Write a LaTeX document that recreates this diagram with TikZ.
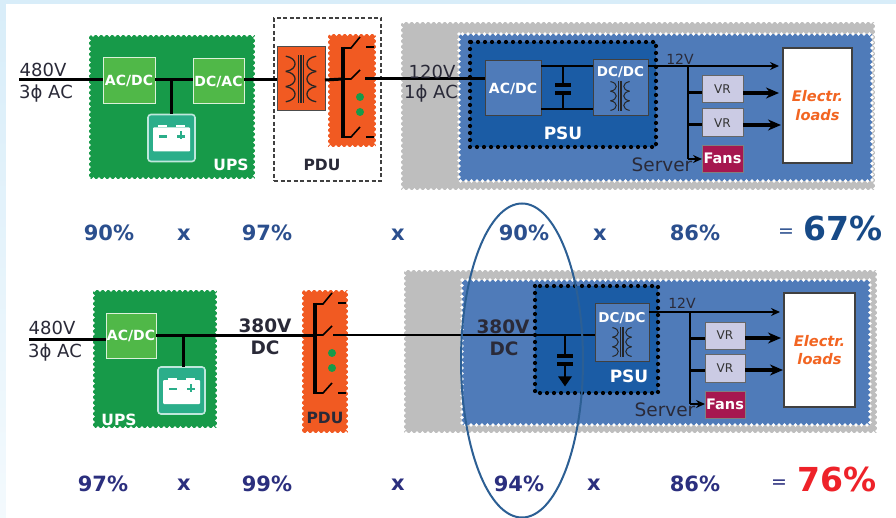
\documentclass[tikz,border=0pt]{standalone}
\usepackage{fontspec}
\setmainfont{DejaVu Sans}
\usetikzlibrary{arrows.meta,shapes.geometric}
\definecolor{bgblue}{HTML}{D8EDF9}
\definecolor{upsgreen}{HTML}{179A49}
\definecolor{ltgreen}{HTML}{50B848}
\definecolor{pduorange}{HTML}{F15A22}
\definecolor{srvblue}{HTML}{4F7BB9}
\definecolor{psublue}{HTML}{1B5CA5}
\definecolor{srvgray}{HTML}{BEBEBE}
\definecolor{vrfill}{HTML}{CBCBE4}
\definecolor{fanred}{HTML}{A6174F}
\definecolor{loadorange}{HTML}{F26522}
\definecolor{pctA}{HTML}{2B4F8E}
\definecolor{pctB}{HTML}{2B2F7E}
\definecolor{bigblue}{HTML}{174A87}
\definecolor{bigred}{HTML}{EE2229}
\definecolor{ellblue}{HTML}{2C5F94}
\definecolor{teal}{HTML}{2BAE8A}
\definecolor{txt}{HTML}{2A2A38}
\newcommand{\fs}[1]{\fontsize{#1}{#1}\selectfont}
% style, name, x1, y1, x2, y2, text
\newcommand{\rbox}[7]{%
  \pgfmathsetmacro\bxw{#5-#3}\pgfmathsetmacro\bxh{#6-#4}%
  \node[#1,minimum width=\bxw pt,minimum height=\bxh pt] (#2) at ({(#3+#5)/2},{(#4+#6)/2}) {#7};}
\newcommand{\xfmr}[5]{% cx cy scale colour linewidth
  \begin{scope}[shift={(#1,#2)},scale=#3,draw=#4,line width=#5]
    \foreach \s in {-1,1}{
      \foreach \k in {-16,0,16}{
        \draw (\s*16,\k-8) .. controls (\s*3,\k-6) and (\s*3,\k+6) .. (\s*16,\k+8);
      }
    }
    \draw (-2.5,-25) -- (-2.5,25) (0,-25) -- (0,25) (2.5,-25) -- (2.5,25);
  \end{scope}}
\newcommand{\battery}[2]{% name, centre
  \node[batt] (#1) at (#2) {};
  \node[battcore] (#1core) at ([yshift=-1.5pt]#1.center) {};
  \fill[white] ([xshift=5pt]#1core.north west) rectangle ++(9,-2);
  \fill[white] ([xshift=-14pt]#1core.north east) rectangle ++(9,-2);
  \fill[teal] ([xshift=-13pt,yshift=4pt]#1core.center) rectangle ++(8,2.2);
  \fill[teal] ([xshift=5pt,yshift=4pt]#1core.center) rectangle ++(8,2.2);
  \fill[teal] ([xshift=8pt,yshift=8pt]#1core.center) rectangle ++(2.2,8);}
\newcommand{\pduswitch}[2]{% dx dy
  \begin{scope}[shift={(#1,#2)}]
    \draw[line width=3.4pt] (343,47) -- (343,138);
    \draw[line width=1.6pt] (343,48) -- (351,48) -- (360,37) (366,47) -- (374,47);
    \draw[line width=1.6pt] (343,79) -- (351,79) -- (360,70);
    \draw[line width=1.6pt] (343,137) -- (351,137) -- (360,127) (366,137) -- (374,137);
    \fill[upsgreen] (360,97) circle[radius=4];
    \fill[upsgreen] (360,112) circle[radius=4];
  \end{scope}}
\tikzset{
  scallop/.style={draw=white,line width=3.6pt,line cap=round,dash pattern=on 0pt off 5.5pt},
  lbl/.style={inner sep=0pt,outer sep=0pt,text=txt,align=center,font=\fs{18}},
  lblb/.style={lbl,font=\fs{18.5}\bfseries},
  white label/.style={inner sep=0pt,text=white,font=\fs{15.5}\bfseries},
  basebox/.style={rectangle,inner sep=0pt,outer sep=0pt},
  upsbox/.style={basebox,fill=upsgreen},
  conv/.style={basebox,fill=ltgreen,draw=white!80!ltgreen,line width=1pt,text=white,font=\fs{14}\bfseries},
  pdubox/.style={basebox,fill=pduorange},
  xfbox/.style={basebox,fill=pduorange,draw=black!70,line width=1pt},
  graybox/.style={basebox,fill=srvgray},
  srvbox/.style={basebox,fill=srvblue},
  psubox/.style={basebox,fill=psublue},
  psudots/.style={draw=black,line width=4.2pt,line cap=round,dash pattern=on 0pt off 7pt},
  inner/.style={basebox,fill=srvblue,draw=black!75,line width=1pt,text=white,font=\fs{14}\bfseries},
  vrbox/.style={basebox,fill=vrfill,draw=black!60,line width=1pt,text=black!80,font=\fs{12}},
  fanbox/.style={basebox,fill=fanred,draw=black!50,line width=.6pt,text=white,font=\fs{14.5}\bfseries},
  loadbox/.style={basebox,fill=white,draw=black!75,line width=1.2pt,align=center,text=loadorange,font=\fs{14.6}\bfseries\itshape},
  batt/.style={draw=white!70!teal,fill=teal,line width=1.6pt,rounded corners=3pt,minimum width=47pt,minimum height=47pt,inner sep=0pt,outer sep=0pt},
  battcore/.style={fill=white,rounded corners=1pt,minimum width=37pt,minimum height=24pt,inner sep=0pt,outer sep=0pt},
  wire/.style={draw=black,line width=3pt},
  thin wire/.style={draw=black,line width=2pt},
  feed/.style={thin wire,-{Stealth[length=9pt,width=8pt]}},
  feedb/.style={draw=black,line width=3.2pt,-{Stealth[length=13pt,width=11pt]}},
  pctA/.style={inner sep=0pt,text=pctA,font=\fs{21}\bfseries},
  pctB/.style={inner sep=0pt,text=pctB,font=\fs{21}\bfseries},
}
\begin{document}
\begin{tikzpicture}[x=1pt,y=-1pt]
\useasboundingbox (0,0) rectangle (896,518);
\fill[bgblue] (0,0) rectangle (896,518);
\shade[top color=bgblue,bottom color=white!70!bgblue] (0,0) rectangle (7,518);
\fill[white] (6,4) rectangle (896,518);

%%%%%% ROW 1
\rbox{upsbox}{upsA}{89}{35}{255}{179}{}
\draw[scallop] (upsA.north west) rectangle (upsA.south east);
\rbox{conv}{acdcA}{103}{58}{155}{104}{AC/DC}
\rbox{conv}{dcacA}{193}{59}{244}{104}{DC/AC}
\battery{batA}{171.5,138}
\node[white label] (upsAl) at (231,165) {UPS};

\rbox{pdubox}{pduA}{328}{34}{376}{147}{}
\draw[scallop] (pduA.north west) rectangle (pduA.south east);
\rbox{xfbox}{xfA}{277}{47}{325}{111}{}
\xfmr{301}{79}{0.95}{black!85}{1.3pt}
\pduswitch{0}{0}
\rbox{basebox,draw=black!75,line width=1.3pt,dash pattern=on 4pt off 2.5pt}{pdudash}{274}{18}{381}{181}{}
\node[lbl,font=\fs{15.5}\bfseries] (pduAl) at (322,165) {PDU};

\rbox{graybox}{grayA}{401}{22}{875}{190}{}
\draw[scallop] (grayA.north west) rectangle (grayA.south east);
\rbox{srvbox}{srvA}{459}{34}{872}{181}{}
\draw[scallop] (srvA.north west) rectangle (srvA.south east);
\rbox{psubox}{psuA}{470}{42}{656}{147}{}
\draw[psudots] (psuA.north west) rectangle (psuA.south east);
\rbox{inner}{acdcB}{485}{61}{541}{116}{AC/DC}
\rbox{inner}{dcdcA}{593}{60}{648}{116}{}
\node[inner sep=0pt,text=white,font=\fs{13.5}\bfseries] (dcdcAl) at (620.5,72) {DC/DC};
\xfmr{620}{96}{0.6}{black!85}{1pt}
\node[white label,font=\fs{17}\bfseries] (psuAl) at (563,133) {PSU};

\rbox{vrbox}{vrA}{702}{76}{743}{103}{VR}
\rbox{vrbox}{vrB}{702}{109}{743}{137}{VR}
\rbox{fanbox}{fanA}{702}{145}{743}{172}{Fans}
\rbox{loadbox}{loadA}{783}{48}{852}{163}{Electr.\\[4pt]loads}

% row 1 connectors
\coordinate (inA) at (19,80);
\draw[wire] (inA) -- (acdcA.west |- inA);
\draw[wire] (acdcA.east |- inA) -- (dcacA.west |- inA);
\draw[wire] (171,80) -- (batA.north -| 171,80);
\draw[wire] (dcacA.east |- inA) -- (xfA.west |- inA);
\draw[wire] (xfA.east |- inA) -- (343,79);
\coordinate (outA) at (365,79);
\draw[wire] (outA) -- (acdcB.west |- outA);
\draw[thin wire,line width=2.4pt] (acdcB.east |- 0,66) -- (dcdcA.west |- 0,66);
\draw[thin wire,line width=2.4pt] (acdcB.east |- 0,109) -- (dcdcA.west |- 0,109);
\coordinate (capAtop) at (563,66);
\coordinate (capAbot) at (563,109);
\draw[thin wire] (capAtop) -- (563,85);
\draw[thin wire] (563,93) -- (capAbot);
\draw[draw=black,line width=3.2pt] (555,85) -- (571,85) (555,93) -- (571,93);
\coordinate (busA) at (688,66);
\coordinate (tipA) at (779,66);
\draw[feed] (dcdcA.east |- busA) -- (tipA);
\draw[thin wire] (busA) -- (688,159);
\draw[wire] (688,93) -- (vrA.west |- 0,93);
\draw[wire] (688,125) -- (vrB.west |- 0,125);
\draw[feedb] (vrA.east |- 0,93) -- (779,93);
\draw[feedb] (vrB.east |- 0,125) -- (781,125);
\draw[feed] (688,159) -- (fanA.west |- 0,159);

% row 1 labels
\node[lbl] (l480A) at (43,70) {480V};
\node[lbl] (l3A) at (46,94) {3ϕ AC};
\node[lbl] (l120) at (432,72) {120V};
\node[lbl] (l1) at (431,94) {1ϕ AC};
\node[lbl,font=\fs{14}] (l12A) at (680,59) {12V};
\node[lbl,font=\fs{18.5}] (srvAl) at (662,165) {Server};

% row 1 percentages
\node[pctA] (a1) at (109,233) {90\%};
\node[pctA] (a2) at (184,235) {x};
\node[pctA] (a3) at (267,233) {97\%};
\node[pctA] (a4) at (398,235) {x};
\node[pctA] (a5) at (524,233) {90\%};
\node[pctA] (a6) at (600,235) {x};
\node[pctA] (a7) at (695,233) {86\%};
\node[pctA,font=\fs{19}] (a8) at (786,233) {=};
\node[inner sep=0pt,text=bigblue,font=\fs{33}\bfseries] (a9) at (843,228) {67\%};

%%%%%% ROW 2
\rbox{upsbox}{upsB}{93}{290}{217}{428}{}
\draw[scallop] (upsB.north west) rectangle (upsB.south east);
\rbox{conv}{acdcC}{106}{314}{156}{358}{AC/DC}
\battery{batB}{181.5,390.5}
\node[white label] (upsBl) at (119,420) {UPS};

\rbox{pdubox}{pduB}{302}{290}{348}{433}{}
\draw[scallop] (pduB.north west) rectangle (pduB.south east);
\pduswitch{-28}{256}
\node[lbl,font=\fs{15.5}\bfseries] (pduBl) at (325,418) {PDU};

\rbox{graybox}{grayB}{404}{270}{877}{433}{}
\draw[scallop] (grayB.north west) rectangle (grayB.south east);
\rbox{srvbox}{srvB}{462}{280}{870}{425}{}
\draw[scallop] (srvB.north west) rectangle (srvB.south east);
\rbox{psubox}{psuB}{535}{286}{658}{393}{}
\draw[psudots] (psuB.north west) rectangle (psuB.south east);
\rbox{inner}{dcdcB}{595}{304}{649}{361}{}
\node[inner sep=0pt,text=white,font=\fs{13.5}\bfseries] (dcdcBl) at (622,318) {DC/DC};
\xfmr{622}{342}{0.6}{black!85}{1pt}
\node[white label,font=\fs{17}\bfseries] (psuBl) at (629,376) {PSU};

\rbox{vrbox}{vrC}{705}{322}{745}{349}{VR}
\rbox{vrbox}{vrD}{705}{354}{745}{382}{VR}
\rbox{fanbox}{fanB}{705}{391}{745}{418}{Fans}
\rbox{loadbox}{loadB}{784}{293}{855}{407}{Electr.\\[4pt]loads}

% row 2 connectors
\coordinate (inB) at (29,339);
\draw[wire] (inB) -- (acdcC.west |- inB);
\coordinate (busDC) at (315,335);
\draw[wire] (acdcC.east |- busDC) -- (busDC);
\draw[wire] (183,335) -- (batB.north -| 183,335);
\coordinate (outB) at (333,335);
\draw[wire,line width=2.6pt] (outB) -- (dcdcB.west |- outB);
\coordinate (capBtop) at (565,335);
\draw[thin wire] (capBtop) -- (565,355);
\draw[draw=black,line width=3.2pt] (557,356) -- (573,356) (557,364) -- (573,364);
\draw[thin wire] (565,364) -- (565,377);
\node[isosceles triangle,isosceles triangle apex angle=70,shape border rotate=-90,fill=black,inner sep=0pt,minimum height=9pt,minimum width=14pt] (gnd) at (565,380) {};
\coordinate (busB) at (690,312);
\coordinate (tipB) at (780,312);
\draw[feed] (dcdcB.east |- busB) -- (tipB);
\draw[thin wire] (busB) -- (690,404);
\draw[wire] (690,338) -- (vrC.west |- 0,338);
\draw[wire] (690,370) -- (vrD.west |- 0,370);
\draw[feedb] (vrC.east |- 0,338) -- (781,338);
\draw[feedb] (vrD.east |- 0,370) -- (783,370);
\draw[feed] (690,404) -- (fanB.west |- 0,404);

% row 2 labels
\node[lbl] (l480B) at (52,328) {480V};
\node[lbl] (l3B) at (55,353) {3ϕ AC};
\node[lblb] (l380A) at (265,326) {380V};
\node[lblb] (lDCA) at (265,348) {DC};
\node[lblb] (l380B) at (503,327) {380V};
\node[lblb] (lDCB) at (504,349) {DC};
\node[lbl,font=\fs{14}] (l12B) at (682,303) {12V};
\node[lbl,font=\fs{18.5}] (srvBl) at (665,410) {Server};

% row 2 percentages
\node[pctB] (b1) at (103,484) {97\%};
\node[pctB] (b2) at (184,485) {x};
\node[pctB] (b3) at (267,484) {99\%};
\node[pctB] (b4) at (398,485) {x};
\node[pctB] (b5) at (519,484) {94\%};
\node[pctB] (b6) at (594,485) {x};
\node[pctB] (b7) at (695,484) {86\%};
\node[pctB,font=\fs{19}] (b8) at (779,484) {=};
\node[inner sep=0pt,text=bigred,font=\fs{33}\bfseries] (b9) at (837,479) {76\%};

% highlight ellipse
\node[ellipse,draw=ellblue,line width=2pt,minimum width=122pt,minimum height=314pt,inner sep=0pt] (focus) at (522,360.5) {};
\end{tikzpicture}
\end{document}
